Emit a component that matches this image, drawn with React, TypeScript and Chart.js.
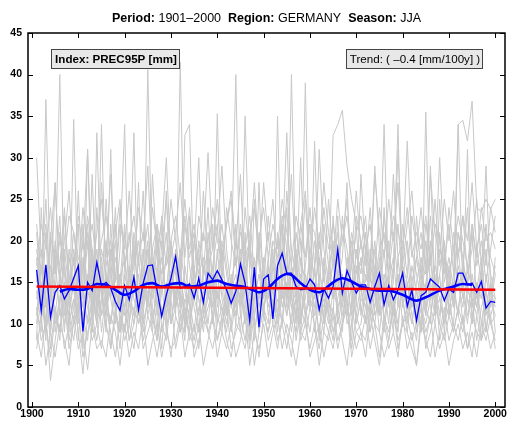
import React, { useEffect, useRef } from "react";
import { Chart, registerables } from "chart.js";
Chart.register(...registerables);

const startYear = 1901;
const years = Array.from({ length: 100 }, (_, i) => startYear + i);
const xTicks = [1900, 1910, 1920, 1930, 1940, 1950, 1960, 1970, 1980, 1990, 2000];
const yTicks = [0, 5, 10, 15, 20, 25, 30, 35, 40, 45];

const titleParts: [string, boolean][] = [
  ["Period:", true], [" 1901\u20132000  ", false],
  ["Region:", true], [" GERMANY  ", false],
  ["Season:", true], [" JJA", false],
];
const indexLabel = "Index: PREC95P [mm]";
const trendLabel = "Trend: ( \u20130.4 [mm/100y] )";

const regionMean = [
  16.5, 11.6, 17.1, 10.8, 13.8, 14.6, 13.0, 14.0, 15.5, 17.0,
  9.1, 15.0, 14.0, 17.4, 14.6, 15.0, 14.3, 12.7, 11.6, 14.6,
  12.9, 15.6, 11.7, 14.9, 17.0, 17.1, 14.0, 10.9, 13.5, 15.5,
  18.1, 14.3, 14.5, 14.8, 13.1, 15.5, 12.6, 16.1, 15.3, 16.4,
  15.3, 14.1, 12.5, 13.9, 17.2, 14.9, 10.4, 16.8, 9.6, 15.4,
  15.9, 10.6, 17.0, 18.5, 16.1, 16.1, 14.5, 14.1, 14.2, 15.4,
  14.7, 11.7, 14.2, 13.1, 14.5, 19.0, 13.7, 16.4, 15.0, 13.7,
  14.7, 14.7, 12.6, 14.5, 16.1, 12.3, 14.6, 12.9, 14.1, 16.1,
  12.1, 14.1, 10.4, 13.4, 13.8, 15.4, 14.9, 14.4, 12.8, 14.2,
  13.8, 16.1, 16.1, 14.7, 14.9, 13.8, 15.1, 11.9, 12.7, 12.6,
];

const smoothYears = [
  1906, 1908, 1910, 1912, 1914, 1916, 1918, 1920, 1922, 1924, 1926, 1928,
  1930, 1932, 1934, 1936, 1938, 1940, 1942, 1944, 1946, 1948, 1949, 1951,
  1953, 1955, 1956, 1958, 1960, 1962, 1963, 1965, 1967, 1969, 1971, 1973,
  1975, 1977, 1980, 1983, 1985, 1988, 1991, 1993, 1995,
];
const smoothValues = [
  13.9, 14.2, 14.1, 14.2, 14.8, 14.7, 14.1, 13.5, 13.9, 14.7, 14.9, 14.5,
  14.8, 14.9, 14.5, 14.6, 15.0, 15.2, 14.8, 14.6, 14.4, 14.0, 13.8, 14.3,
  15.4, 16.0, 15.9, 14.9, 14.1, 13.8, 14.1, 15.0, 15.5, 15.1, 14.5, 14.2,
  14.0, 14.0, 13.5, 12.8, 13.2, 14.0, 14.5, 14.8, 14.7,
];

const trendYears = [1901, 2000];
const trendValues = [14.5, 14.1];

const station01 = [
  12, 9, 37, 14, 11, 16, 10, 13, 18, 8, 15, 21, 11, 17, 9, 14, 19, 12, 7, 16,
  13, 10, 18, 12, 40.6, 15, 9, 20, 11, 14, 17, 12, 8, 23, 13, 11, 16, 19, 10, 14,
  12, 9, 15, 18, 11, 21, 8, 13, 16, 12, 10, 17, 14, 22, 12, 40, 15, 11, 13, 18,
  9, 14, 12, 16, 20, 11, 15, 13, 8, 17, 12, 10, 19, 14, 11, 16, 13, 9, 18, 12,
  15, 11, 8, 14, 17, 12, 10, 21, 13, 11, 16, 34, 34.5, 32, 36.8, 24, 23.5, 25, 23.8, 25,
];
const station02 = [
  19, 14, 8, 21, 16, 40, 13, 11, 15, 22, 7, 16, 13, 10, 18, 12, 14, 24, 11, 9,
  17, 13, 11, 15, 20, 12, 8, 14, 18, 16, 11, 41.5, 14, 10, 17, 9, 13, 15, 22, 12,
  16, 11, 14, 10, 19, 13, 7, 18, 12, 15, 13, 19, 11, 16, 14, 10, 17, 12, 39, 14,
  15, 8, 18, 13, 11, 23, 12, 16, 10, 14, 18, 13, 11, 15, 9, 14, 20, 12, 16, 10,
  12, 17, 14, 9, 35.5, 13, 15, 11, 18, 12, 10, 19, 13, 15, 11, 14, 8, 16, 12, 18,
];
const station03 = [
  8, 24, 12, 15, 10, 13, 18, 9, 34.6, 13, 14, 10, 18, 12, 15, 9, 22, 13, 16, 11,
  12, 19, 14, 9, 13, 17, 11, 15, 26, 10, 14, 11, 17, 13, 9, 15, 12, 18, 14, 16,
  10, 13, 18, 40, 12, 15, 9, 14, 20, 11, 17, 12, 15, 10, 19, 13, 11, 16, 12, 9,
  14, 18, 10, 15, 32.7, 34, 35.7, 29, 25, 22, 11, 16, 14, 12, 18, 10, 15, 13, 9, 17,
  13, 10, 15, 18, 12, 14, 11, 16, 9, 15, 12, 34, 14, 10, 16, 12, 17, 9, 13, 11,
];
const station04 = [
  16, 11, 14, 20, 9, 13, 17, 12, 15, 10, 18, 13, 9, 33, 14, 11, 16, 12, 19, 34,
  10, 15, 13, 17, 11, 14, 21, 9, 13, 16, 12, 18, 10, 14, 16, 13, 9, 15, 12, 35.3,
  14, 11, 16, 13, 9, 17, 12, 15, 10, 18, 11, 14, 17, 12, 15, 9, 13, 20, 11, 14,
  16, 12, 9, 15, 13, 18, 11, 14, 17, 10, 13, 19, 12, 10, 15, 34, 14, 11, 16, 13,
  9, 14, 12, 17, 11, 15, 13, 10, 19, 14, 15, 11, 17, 13, 10, 14, 18, 12, 15, 9,
];
const station05 = [
  11, 17, 13, 9, 15, 12, 19, 14, 10, 16, 12, 15, 19, 11, 34, 13, 10, 16, 14, 12,
  15, 33, 11, 13, 16, 10, 14, 18, 12, 15, 13, 16, 12, 9, 14, 19, 11, 13, 17, 10,
  17, 14, 10, 15, 13, 35, 16, 11, 14, 12, 15, 10, 35, 13, 17, 12, 14, 9, 16, 13,
  11, 16, 14, 12, 18, 10, 13, 15, 11, 19, 14, 12, 16, 11, 13, 15, 10, 17, 34, 12,
  16, 13, 11, 15, 12, 10, 17, 14, 13, 16, 13, 15, 12, 17, 14, 12, 16, 11, 14, 13,
];
const station06 = [
  9, 6, 11, 3.2, 8, 12, 7, 10, 13, 9, 4, 11, 8, 10, 7, 12, 9, 6, 11, 8,
  10, 7, 12, 8, 11, 9, 6, 10, 8, 13, 7, 10, 9, 12, 6, 8, 11, 9, 7, 10,
  12, 8, 6, 10, 9, 7, 11, 5, 9, 12, 8, 10, 7, 11, 9, 6, 12, 8, 10, 7,
  10, 5, 9, 8, 11, 7, 10, 12, 6, 9, 8, 11, 7, 10, 9, 6, 8, 12, 7, 10,
  9, 7, 5, 10, 8, 11, 6, 9, 12, 8, 10, 8, 11, 7, 9, 6, 10, 8, 11, 7,
];
const station07 = [
  14, 10, 16, 7, 12, 9, 15, 11, 8, 13, 11, 8, 14, 10, 13, 16, 7, 12, 9, 14,
  8, 12, 10, 14, 17, 11, 13, 7, 15, 10, 15, 9, 13, 11, 8, 12, 14, 10, 16, 8,
  11, 14, 9, 13, 16, 10, 12, 8, 14, 11, 9, 13, 10, 15, 11, 14, 8, 12, 10, 16,
  12, 9, 14, 11, 8, 13, 16, 10, 12, 9, 10, 14, 9, 12, 16, 11, 8, 13, 10, 15,
  11, 15, 9, 12, 10, 13, 16, 8, 11, 14, 9, 12, 15, 11, 13, 8, 12, 14, 10, 11,
];
const station08 = [
  30, 18, 22, 13, 27, 15, 20, 26, 17, 23, 19, 31, 16, 21, 25, 18, 28, 15, 22, 19,
  26, 17, 24, 20, 29, 16, 22, 19, 25, 18, 21, 27, 18, 24, 16, 23, 20, 30.6, 19, 25,
  17, 22, 26, 19, 28, 15, 21, 24, 18, 27, 20, 25, 17, 23, 19, 28, 16, 22, 26, 18,
  24, 19, 27, 21, 17, 25, 20, 23, 18, 26, 19, 23, 16, 28, 21, 18, 25, 20, 27, 17,
  22, 26, 19, 24, 17, 28, 21, 18, 25, 20, 26, 18, 23, 20, 27, 19, 22, 17, 24, 21,
];
const station09 = [
  18, 12, 21, 9, 16, 23, 11, 19, 14, 26, 13, 20, 10, 24, 15, 12, 18, 22, 9, 17,
  21, 14, 27, 11, 19, 13, 17, 23, 10, 20, 16, 12, 32.7, 34, 14, 18, 11, 21, 15, 13,
  20, 16, 12, 22, 14, 19, 10, 25, 17, 13, 18, 11, 21, 15, 24, 13, 19, 10, 17, 22,
  13, 20, 16, 11, 23, 15, 18, 27, 12, 19, 16, 21, 13, 19, 11, 24, 15, 18, 12, 22,
  19, 12, 23, 16, 14, 20, 11, 25, 15, 18, 14, 21, 17, 24, 12, 19, 15, 22, 16, 13,
];
const station10 = [
  10, 15, 9, 13, 18, 11, 14, 8, 12, 17, 9, 31, 12, 15, 11, 20, 13, 10, 16, 12,
  14, 11, 16, 10, 13, 19, 12, 15, 9, 14, 18, 13, 10, 15, 12, 9, 17, 14, 11, 19,
  13, 10, 15, 12, 18, 11, 14, 9, 13, 16, 12, 15, 9, 14, 11, 17, 13, 10, 15, 12,
  17, 11, 13, 10, 14, 12, 9, 18, 14, 11, 15, 10, 13, 17, 12, 9, 14, 11, 16, 13,
  10, 14, 12, 9, 15, 18, 12, 13, 10, 17, 12, 16, 10, 14, 13, 11, 15, 9, 14, 12,
];
const station11 = [
  7, 11, 5, 9, 6, 10, 8, 5, 11, 7, 9, 4.5, 10, 7, 8, 6, 11, 9, 5, 10,
  6, 9, 7, 11, 5, 8, 10, 6, 9, 7, 8, 11, 6, 9, 7, 10, 5, 8, 11, 6,
  9, 7, 10, 6, 8, 11, 5, 9, 7, 10, 6, 9, 11, 7, 10, 8, 5, 9, 11, 6,
  8, 10, 6, 9, 7, 11, 8, 5, 10, 7, 9, 6, 11, 8, 5, 10, 7, 9, 6, 11,
  7, 9, 5, 11, 8, 6, 10, 7, 9, 5, 8, 10, 7, 9, 6, 11, 8, 10, 7, 9,
];
const station12 = [
  21, 13, 17, 11, 20, 15, 23, 14, 19, 12, 17, 22, 14, 19, 13, 25, 16, 20, 12, 21,
  15, 20, 13, 18, 22, 14, 19, 16, 21, 13, 19, 15, 22, 17, 13, 20, 16, 24, 14, 18,
  22, 17, 13, 20, 15, 24, 18, 14, 21, 16, 14, 20, 18, 22, 16, 13, 21, 17, 25, 15,
  20, 15, 22, 17, 19, 14, 23, 16, 21, 18, 17, 21, 15, 20, 14, 23, 18, 16, 22, 15,
  20, 15, 18, 21, 16, 23, 14, 19, 17, 22, 16, 21, 18, 14, 22, 17, 20, 15, 19, 23,
];
const station13 = [
  15, 19, 12, 17, 14, 21, 16, 13, 18, 15, 20, 14, 28, 12, 19, 16, 13, 18, 15, 22,
  14, 17, 20, 15, 12, 18, 16, 21, 30, 17, 13, 19, 15, 12, 20, 16, 18, 13, 17, 21,
  29, 19, 14, 16, 12, 18, 20, 15, 13, 17, 21, 14, 16, 19, 33, 17, 15, 30, 14, 18,
  16, 31, 19, 15, 17, 21, 14, 12, 18, 16, 20, 15, 17, 29, 19, 14, 16, 21, 15, 18,
  32, 19, 16, 13, 20, 15, 17, 30, 18, 16, 19, 14, 17, 15, 21, 13, 16, 29, 14, 17,
];
const station14 = [
  11, 14, 9, 13, 12, 8, 15, 10, 13, 11, 14, 12, 9, 16, 11, 13, 10, 14, 12, 9,
  13, 15, 10, 12, 14, 9, 16, 11, 13, 10, 12, 14, 11, 9, 15, 13, 10, 12, 14, 11,
  9, 15, 12, 11, 14, 10, 13, 16, 9, 12, 14, 11, 13, 10, 15, 12, 9, 14, 11, 13,
  12, 15, 10, 13, 9, 12, 14, 11, 15, 10, 13, 12, 9, 14, 11, 13, 16, 10, 12, 14,
  13, 10, 14, 12, 9, 11, 15, 13, 10, 12, 14, 11, 9, 13, 12, 15, 10, 14, 11, 13,
];
const station15 = [
  22, 16, 25, 13, 19, 17, 24, 15, 21, 18, 16, 23, 19, 14, 27, 17, 20, 15, 24, 18,
  13, 21, 17, 26, 15, 19, 22, 14, 18, 25, 20, 16, 23, 18, 21, 15, 26, 17, 19, 22,
  15, 24, 20, 17, 22, 16, 19, 27, 18, 14, 23, 17, 20, 15, 26, 19, 16, 22, 18, 24,
  17, 21, 15, 25, 18, 16, 22, 19, 14, 23, 20, 17, 24, 15, 19, 21, 16, 28, 18, 20,
  16, 23, 19, 15, 22, 18, 25, 17, 20, 14, 21, 18, 23, 16, 19, 25, 17, 21, 18, 16,
];
const station16 = [
  12, 8, 10, 6, 11, 9, 13, 7, 10, 12, 6, 9, 11, 8, 13, 10, 7, 11, 9, 12,
  8, 10, 13, 7, 9, 11, 8, 12, 10, 6, 11, 9, 12, 8, 10, 7, 13, 9, 11, 8,
  10, 12, 7, 9, 11, 8, 13, 10, 6, 11, 9, 12, 8, 10, 7, 11, 13, 9, 8, 12,
  10, 7, 11, 9, 12, 8, 10, 13, 7, 11, 9, 8, 12, 10, 6, 11, 9, 12, 8, 10,
  11, 8, 10, 13, 7, 9, 12, 10, 8, 11, 9, 12, 10, 7, 11, 9, 8, 12, 10, 8,
];
const station17 = [
  13, 17, 10, 20, 27, 15, 9, 18, 14, 11, 22, 13, 16, 10, 17, 13, 31, 11, 15, 18,
  10, 16, 13, 19, 12, 28, 18, 11, 14, 20, 12, 17, 9, 15, 19, 30, 14, 17, 10, 16,
  19, 12, 15, 11, 18, 14, 20, 10, 27, 13, 17, 14, 11, 19, 13, 16, 10, 18, 15, 12,
  32, 14, 11, 17, 13, 16, 10, 15, 20, 12, 28, 18, 11, 16, 13, 19, 12, 15, 31, 17,
  15, 12, 18, 14, 11, 29, 13, 16, 20, 11, 13, 17, 14, 31, 10, 15, 13, 19, 12, 16,
];
const station18 = [
  17, 22, 19, 24, 16, 20, 18, 23, 21, 16, 24, 19, 22, 17, 20, 23, 18, 21, 25, 17,
  20, 23, 18, 21, 16, 24, 19, 22, 17, 20, 23, 18, 25, 19, 22, 17, 21, 18, 24, 20,
  18, 22, 25, 17, 21, 19, 23, 16, 20, 24, 18, 22, 19, 25, 21, 17, 23, 20, 18, 22,
  21, 17, 24, 19, 22, 18, 20, 25, 17, 21, 23, 19, 22, 16, 24, 20, 18, 23, 21, 19,
  24, 18, 21, 19, 23, 17, 22, 20, 16, 24, 19, 23, 20, 17, 22, 18, 24, 20, 21, 19,
];
const stations = [
  station01, station02, station03, station04, station05, station06,
  station07, station08, station09, station10, station11, station12,
  station13, station14, station15, station16, station17, station18,
];

const FONT = "'Liberation Sans', Arial, Helvetica, sans-serif";

const decorPlugin = {
  id: "decor",
  afterDraw(chart: any) {
    const { ctx, chartArea: a, scales } = chart;
    const xs = scales.x;
    const ys = scales.y;
    ctx.save();
    ctx.strokeStyle = "#000";
    ctx.lineWidth = 1.5;
    ctx.strokeRect(a.left, a.top, a.right - a.left, a.bottom - a.top);
    ctx.lineWidth = 1;
    ctx.beginPath();
    xTicks.forEach((v) => {
      const px = Math.round(xs.getPixelForValue(v)) + 0.5;
      ctx.moveTo(px, a.bottom);
      ctx.lineTo(px, a.bottom - 5);
      ctx.moveTo(px, a.top);
      ctx.lineTo(px, a.top + 5);
    });
    yTicks.forEach((v) => {
      const py = Math.round(ys.getPixelForValue(v)) + 0.5;
      ctx.moveTo(a.left, py);
      ctx.lineTo(a.left + 5, py);
      ctx.moveTo(a.right, py);
      ctx.lineTo(a.right - 5, py);
    });
    ctx.stroke();
    ctx.fillStyle = "#000";
    ctx.font = `bold 10.5px ${FONT}`;
    ctx.textAlign = "center";
    ctx.textBaseline = "top";
    xTicks.forEach((v) => {
      ctx.fillText(String(v), xs.getPixelForValue(v), a.bottom + 2);
    });
    ctx.textAlign = "right";
    ctx.textBaseline = "middle";
    yTicks.forEach((v) => {
      ctx.fillText(String(v), a.left - 6, ys.getPixelForValue(v));
    });
    ctx.textBaseline = "alphabetic";
    ctx.textAlign = "left";
    const tSize = 12.5;
    let total = 0;
    titleParts.forEach(([t, b]) => {
      ctx.font = `${b ? "bold " : ""}${tSize}px ${FONT}`;
      total += ctx.measureText(t).width;
    });
    let tx = (a.left + a.right) / 2 - total / 2;
    titleParts.forEach(([t, b]) => {
      ctx.font = `${b ? "bold " : ""}${tSize}px ${FONT}`;
      ctx.fillText(t, tx, 22);
      tx += ctx.measureText(t).width;
    });
    const drawBox = (text: string, bold: boolean, x0: number, x1: number) => {
      ctx.fillStyle = "#e8e8e8";
      ctx.fillRect(x0, 49, x1 - x0, 20);
      ctx.strokeStyle = "#444";
      ctx.lineWidth = 1;
      ctx.strokeRect(x0 + 0.5, 49.5, x1 - x0, 19);
      ctx.fillStyle = "#000";
      ctx.font = `${bold ? "bold " : ""}11.6px ${FONT}`;
      ctx.textAlign = "center";
      ctx.textBaseline = "middle";
      ctx.fillText(text, (x0 + x1) / 2 + 1, 59.5);
    };
    drawBox(indexLabel, true, 51, 179);
    drawBox(trendLabel, false, 346, 482);
    ctx.restore();
  },
};

export default function App() {
  const ref = useRef<HTMLCanvasElement | null>(null);
  useEffect(() => {
    document.body.style.margin = "0";
    const canvas = ref.current;
    if (!canvas) return;
    const greyDatasets = stations.map((s, k) => ({
      label: `station ${k + 1}`,
      data: s.map((v, i) => ({ x: years[i], y: v })),
      borderColor: "rgb(200,200,200)",
      borderWidth: 1,
      pointRadius: 0,
      fill: false,
      tension: 0,
      order: 10,
    }));
    const chart = new Chart(canvas, {
      type: "line",
      data: {
        datasets: [
          {
            label: "trend",
            data: trendValues.map((v, i) => ({ x: trendYears[i], y: v })),
            borderColor: "#ff0000",
            borderWidth: 2.6,
            pointRadius: 0,
            fill: false,
            order: 0,
          },
          {
            label: "smoothed",
            data: smoothValues.map((v, i) => ({ x: smoothYears[i], y: v })),
            borderColor: "#0000ff",
            borderWidth: 2.6,
            pointRadius: 0,
            fill: false,
            tension: 0.4,
            cubicInterpolationMode: "monotone",
            order: 1,
          },
          {
            label: "regional mean",
            data: regionMean.map((v, i) => ({ x: years[i], y: v })),
            borderColor: "#0000ff",
            borderWidth: 1.3,
            pointRadius: 0,
            fill: false,
            tension: 0,
            order: 2,
          },
          ...greyDatasets,
        ],
      } as any,
      options: {
        animation: false,
        responsive: false,
        events: [],
        layout: { padding: { top: 33, right: 3, left: 0, bottom: 0 } },
        plugins: { legend: { display: false }, tooltip: { enabled: false }, title: { display: false } },
        scales: {
          x: {
            type: "linear",
            min: 1899.14,
            max: 2002.1,
            grid: { display: false },
            border: { display: false },
            ticks: { display: false },
            afterFit: (s: any) => { s.height = 16; },
          },
          y: {
            type: "linear",
            min: 0,
            max: 45,
            grid: { display: false },
            border: { display: false },
            ticks: { display: false },
            afterFit: (s: any) => { s.width = 28; },
          },
        },
      } as any,
      plugins: [decorPlugin],
    });
    return () => chart.destroy();
  }, []);
  return (
    <canvas ref={ref} width={508} height={423} style={{ display: "block", width: 508, height: 423 }} />
  );
}
